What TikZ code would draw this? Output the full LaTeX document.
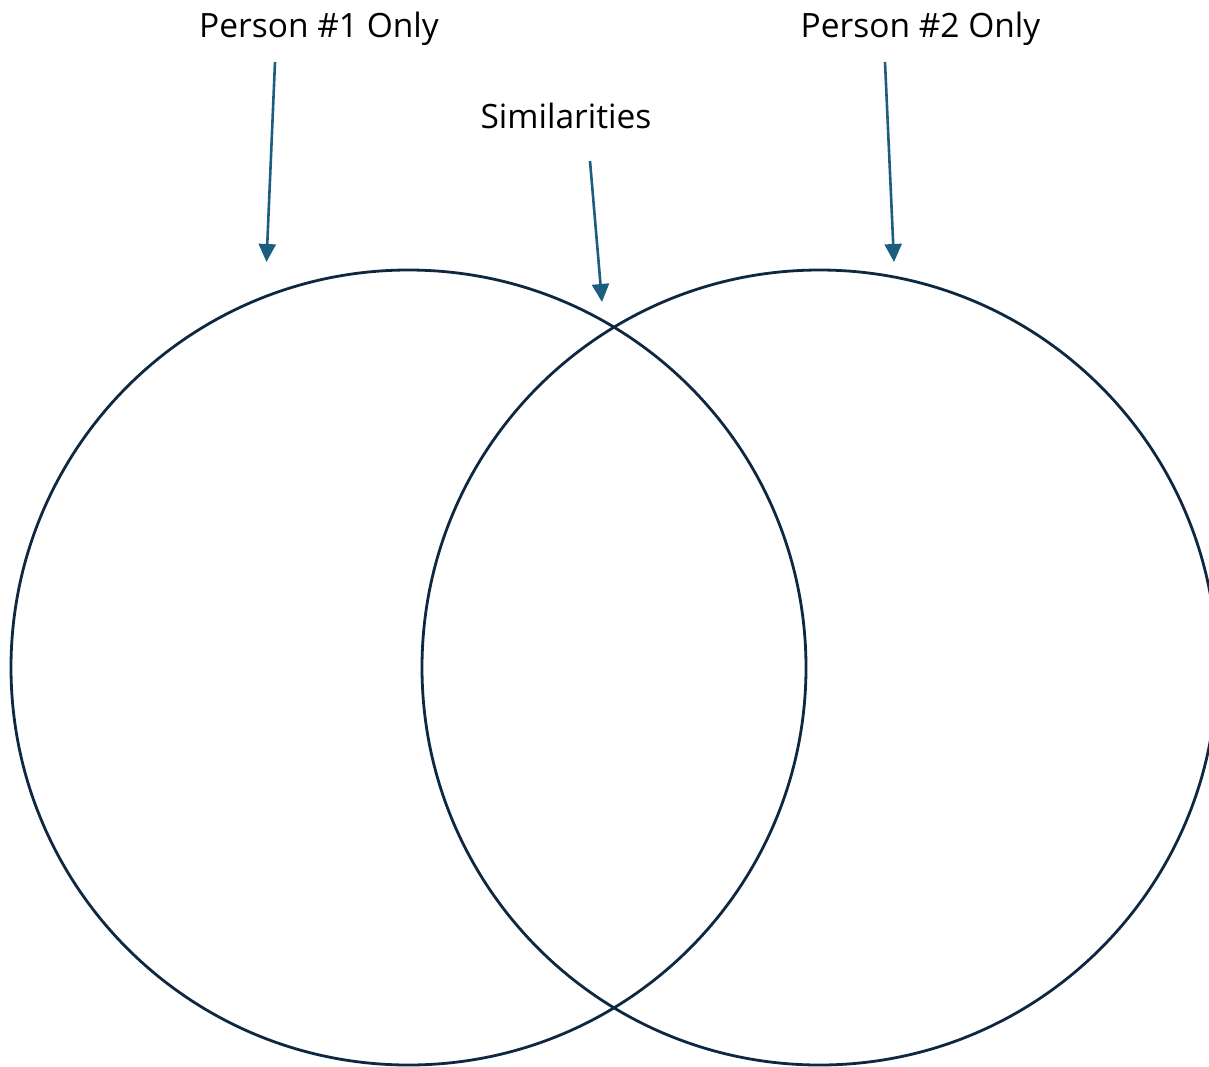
\documentclass[tikz,border=0pt]{standalone}
\usepackage{fontspec}
\setmainfont{Open Sans}
\usetikzlibrary{arrows.meta}
\definecolor{ringblue}{HTML}{0E2841}
\definecolor{arrowblue}{HTML}{1B5E80}

\begin{document}
\begin{tikzpicture}[x=1pt, y=-1pt,
    ring/.style={circle, draw=ringblue, line width=2.8pt, minimum size=795pt, inner sep=0pt},
    tag/.style={font=\fontsize{33.5}{40}\selectfont, anchor=base, inner sep=0pt},
    pointer/.style={draw=arrowblue, line width=2.6pt, -{Triangle[width=17pt, length=18pt]}}]
  \useasboundingbox (0,0) rectangle (1209,1066);

  % the two sets
  \node[ring] (left) at (408.5,667.5) {};
  \node[ring] (right) at (819.5,667.5) {};

  % labels
  \node[tag] (one) at (319,37) {Person \#1 Only};
  \node[tag] (sim) at (566,128) {Similarities};
  \node[tag] (two) at (920.5,37) {Person \#2 Only};

  % arrow ends
  \coordinate (oneA) at (275,62);
  \coordinate (oneB) at (266.5,262);
  \coordinate (simA) at (590,161);
  \coordinate (simB) at (602,302);
  \coordinate (twoA) at (885,62);
  \coordinate (twoB) at (894,262);

  \draw[pointer] (oneA) -- (oneB);
  \draw[pointer] (simA) -- (simB);
  \draw[pointer] (twoA) -- (twoB);
\end{tikzpicture}
\end{document}
